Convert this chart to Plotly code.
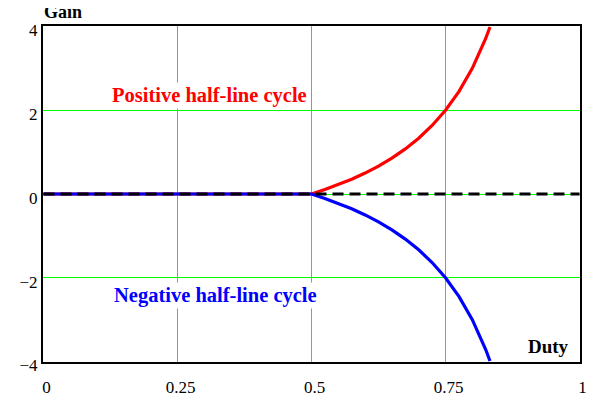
import plotly.graph_objects as go

duty_flat = [0.0, 0.5]
gain_flat = [0.0, 0.0]
duty_curve = [0.5, 0.525, 0.55, 0.575, 0.6, 0.625, 0.65, 0.675, 0.7, 0.725, 0.75, 0.775, 0.8, 0.815, 0.825, 0.833]
gain_pos = [0.0, 0.105, 0.222, 0.353, 0.5, 0.667, 0.857, 1.077, 1.333, 1.636, 2.0, 2.444, 3.0, 3.405, 3.714, 3.988]
gain_neg = [-g for g in gain_pos]
ref_x = [0.0, 1.0]
ref_y = [0.0, 0.0]
x_ticks = [0, 0.25, 0.5, 0.75, 1]
x_labels = ["0", "0.25", "0.5", "0.75", "1"]
y_ticks = [-4, -2, 0, 2, 4]
y_labels = ["\u22124", "\u22122", "0", "2", "4"]

# plot area 541 x 341 px; ranges padded by half a pixel so 1px grid lines stay crisp
px_x = 540.0   # pixels per unit of duty
px_y = 42.5    # pixels per unit of gain
pad_x = 0.5 / px_x
pad_y = 0.5 / px_y

fig = go.Figure()
fig.add_trace(go.Scatter(x=duty_flat + duty_curve[1:], y=gain_flat + gain_pos[1:], mode="lines",
                         line=dict(color="#ff0000", width=3.2), showlegend=False))
fig.add_trace(go.Scatter(x=duty_flat + duty_curve[1:], y=gain_flat + gain_neg[1:], mode="lines",
                         line=dict(color="#0000ff", width=3.2), showlegend=False))
fig.add_trace(go.Scatter(x=ref_x, y=ref_y, mode="lines",
                         line=dict(color="black", width=3, dash="11px,6px"), showlegend=False))

font = "Liberation Serif, Times New Roman, serif"
fig.update_layout(
    width=599, height=401,
    margin=dict(l=31, r=27, t=18, b=42),
    plot_bgcolor="white", paper_bgcolor="white",
    font=dict(family=font, size=17, color="black"),
    xaxis=dict(range=[-pad_x, 1 + pad_x], tickvals=x_ticks, ticktext=x_labels, showgrid=True,
               gridcolor="#00ff00", gridwidth=1, zeroline=False, showline=True,
               linecolor="black", linewidth=2, mirror=True, ticks="", ticklen=0,
               ticklabelshift=3, ticklabelstandoff=9),
    yaxis=dict(range=[-4 - pad_y, 4 + pad_y], tickvals=y_ticks, ticktext=y_labels, showgrid=True,
               gridcolor="#00ff00", gridwidth=1, zeroline=False, showline=True,
               linecolor="black", linewidth=2, mirror=True, ticks="", ticklen=0,
               ticklabelshift=4),
    annotations=[
        dict(text="<b>Gain</b>", xref="paper", yref="paper", x=0.0, y=1.0,
             xanchor="left", yanchor="bottom", yshift=3, showarrow=False, borderpad=0,
             font=dict(size=18, family=font)),
        dict(text="<b>Duty</b>", x=0.985, y=-3.65, xanchor="right", yanchor="middle",
             showarrow=False, font=dict(size=19, family=font), bgcolor="white"),
        dict(text="<b>Positive half-line cycle</b>", x=0.31, y=2.36, showarrow=False,
             font=dict(size=20.5, family=font, color="#ff0000"), bgcolor="white"),
        dict(text="<b>Negative half-line cycle</b>", x=0.32, y=-2.43, showarrow=False,
             font=dict(size=20.5, family=font, color="#0000ff"), bgcolor="white"),
    ],
)
fig.write_html("out.html")
